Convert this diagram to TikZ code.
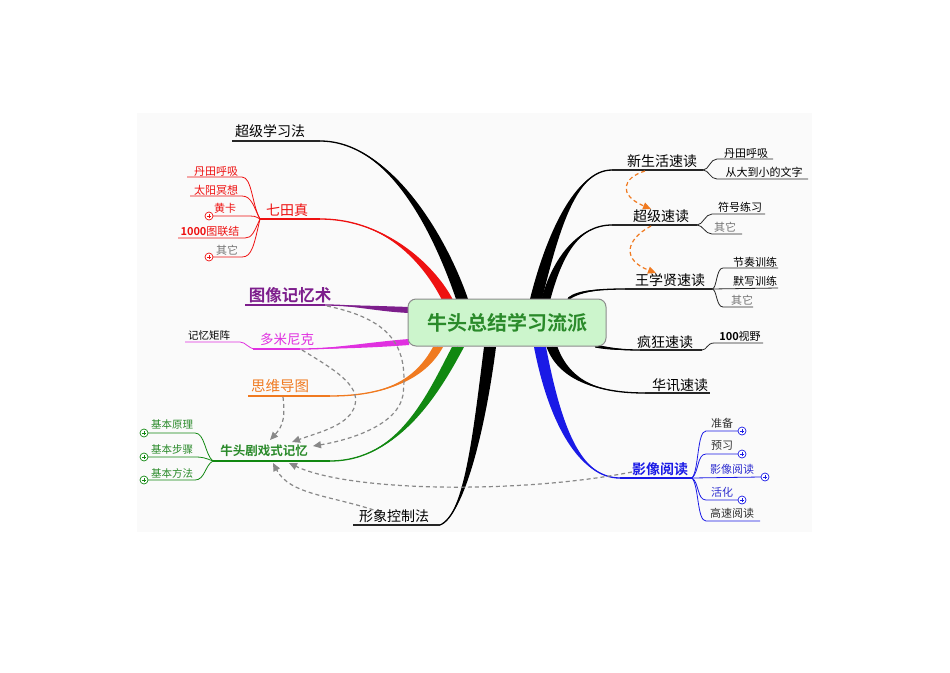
\documentclass[tikz,border=0pt]{standalone}
\usepackage{fontspec}
\setmainfont{Noto Sans CJK SC}[BoldFont={Noto Sans CJK SC Bold}]
\usetikzlibrary{arrows.meta,calc}
\definecolor{cred}{HTML}{EE1111}
\definecolor{cpur}{HTML}{7D1E8C}
\definecolor{cmag}{HTML}{E030E0}
\definecolor{cora}{HTML}{F07A20}
\definecolor{cgrn}{HTML}{118811}
\definecolor{tgrn}{HTML}{2A8A2A}
\definecolor{cblu}{HTML}{1A1AE6}
\definecolor{tblu}{HTML}{3030D0}
\definecolor{cfill}{HTML}{CCF5CC}
\definecolor{cgray}{HTML}{888888}
\definecolor{tdark}{HTML}{333333}
\newcommand\brfill[6]{%
  \fill[#1] ($#2+(#3)$) .. controls ($#4+(#3)$) and #5 .. #6 .. controls #5 and ($#4-(#3)$) .. ($#2-(#3)$) -- cycle;
  \draw[#1,line width=1.3pt] #2 .. controls #4 and #5 .. #6;}
\tikzset{
  big/.style={inner sep=0pt,font=\fontsize{14}{16}\selectfont},
  small/.style={inner sep=0pt,font=\fontsize{11}{13}\selectfont},
  ul/.style={line width=1.4pt},
  sl/.style={line width=0.8pt},
  pl/.style={circle,draw=#1,fill=white,inner sep=0pt,minimum size=8pt,line width=0.7pt,
    path picture={\draw[#1,line width=0.7pt] ($(path picture bounding box.center)-(2.2pt,0pt)$)--++(4.4pt,0pt)
      ($(path picture bounding box.center)-(0pt,2.2pt)$)--++(0pt,4.4pt);}},
  darr/.style={draw=cgray,line width=1.2pt,dash pattern=on 4pt off 3pt,-{Triangle[length=8pt,width=7pt,fill=cgray]}},
  oarr/.style={draw=cora,line width=1.2pt,dash pattern=on 4pt off 3pt,-{Triangle[length=8pt,width=7pt,fill=cora]}}
}
\begin{document}
\begin{tikzpicture}[x=1pt,y=-1pt]
\useasboundingbox (0,0) rectangle (950,672);
\fill[white] (0,0) rectangle (950,672);
\fill[black!2] (137,113) rectangle (812,532);

% ---------- main branches ----------
\brfill{black}{(462,299)}{6,0}{(440,235)}{(390,141)}{(320,141)}
\draw[black!85,ul] (232,141) -- (320,141);
\brfill{cred}{(447,299)}{5.5,0}{(432,270)}{(390,219)}{(320,219)}
\draw[cred,ul] (260,219) -- (320,219);
\brfill{cpur}{(410,310)}{0,3}{(380,309)}{(350,305)}{(325,305)}
\draw[cpur,ul] (245,305) -- (325,305);
\brfill{cmag}{(409,342)}{0,3}{(370,345)}{(330,349)}{(300,349)}
\draw[cmag,ul] (253,349) -- (300,349);
\brfill{cora}{(438,347)}{5,0}{(420,380)}{(385,396)}{(330,396)}
\draw[cora,ul] (248,396) -- (330,396);
\brfill{cgrn}{(458,347)}{6,0}{(435,390)}{(400,461)}{(330,461)}
\draw[cgrn,ul] (213,461) -- (330,461);
\brfill{black}{(490,347)}{6,0}{(480,425)}{(465,515)}{(440,525)}
\draw[black!85,ul] (353,525) -- (440,525);

\brfill{black}{(536,299)}{6,0}{(552,235)}{(575,170)}{(612,170)}
\draw[black!85,ul] (612,170) -- (703,170);
\brfill{black}{(546,299)}{4.5,0}{(557,258)}{(578,225)}{(612,225)}
\draw[black!85,ul] (612,225) -- (697,225);
\brfill{black}{(568,299)}{0,1.5}{(578,291)}{(598,289)}{(625,289)}
\draw[black!85,ul] (625,289) -- (712,289);
\brfill{black}{(595,346)}{0,1.5}{(610,349)}{(625,350)}{(640,350)}
\draw[black!85,ul] (640,350) -- (702,350);
\brfill{black}{(552,347)}{5.5,0}{(565,382)}{(600,393)}{(645,393)}
\draw[black!85,ul] (645,393) -- (710,393);
\brfill{cblu}{(540,347)}{6,0}{(555,425)}{(580,478)}{(620,478)}
\draw[cblu,ul] (620,478) -- (692,478);

% ---------- central node ----------
\node[draw=black!45,fill=cfill,rounded corners=8pt,line width=1pt,minimum width=198pt,minimum height=47pt,
  text=tgrn,font=\fontsize{20}{22}\selectfont\bfseries] (center) at (507,322.5) {牛头总结学习流派};

% ---------- left labels ----------
\node[big] (cjxxf) at (270,131) {超级学习法};
\node[big,text=cred] (qtz) at (287,210) {七田真};
\node[small,text=cred] (dthx1) at (216,171) {丹田呼吸};
\node[small,text=cred] (tymx) at (216,190) {太阳冥想};
\node[small,text=cred] (hk) at (225,208) {黄卡};
\node[small,text=cred] (ltlj) at (210,231) {\textbf{1000}图联结};
\node[small,text=black!55] (qt1) at (227,250) {其它};
\draw[cred,sl] (260,219) .. controls (252,205) and (252,177) .. (242,177) -- (187,177);
\draw[cred,sl] (260,219) .. controls (254,208) and (252,196) .. (242,196) -- (190,196);
\draw[cred,sl] (260,219) .. controls (255,216) .. (245,216) -- (213,216);
\draw[cred,sl] (260,219) .. controls (254,232) and (252,238) .. (245,238) -- (178,238);
\draw[cred,sl] (260,219) .. controls (254,245) and (252,257) .. (242,257) -- (213,257);
\node[pl=cred] (p1) at (209,216) {};
\node[pl=cred] (p2) at (209,257) {};

\node[inner sep=0pt,text=cpur,font=\fontsize{16.5}{18}\selectfont\bfseries] (txjys) at (290,295) {图像记忆术};
\node[inner sep=0pt,text=cmag,font=\fontsize{13.5}{15}\selectfont] (dmnk) at (287,339) {多米尼克};
\node[small,font=\fontsize{10.5}{12}\selectfont] (jyjz) at (209,335) {记忆矩阵};
\draw[cmag,sl] (185,342) -- (240,342) .. controls (246,342) and (248,349) .. (256,349);
\node[inner sep=0pt,text=cora,font=\fontsize{14.5}{16}\selectfont] (swdt) at (280,386) {思维导图};
\node[inner sep=0pt,text=tgrn,font=\fontsize{12.5}{14}\selectfont\bfseries] (ntjx) at (264,451) {牛头剧戏式记忆};
\node[inner sep=0pt,text=tgrn,font=\fontsize{10.5}{12}\selectfont] (jbyl) at (172,425) {基本原理};
\node[inner sep=0pt,text=tgrn,font=\fontsize{10.5}{12}\selectfont] (jbbz) at (172,450) {基本步骤};
\node[inner sep=0pt,text=tgrn,font=\fontsize{10.5}{12}\selectfont] (jbff) at (172,473) {基本方法};
\draw[cgrn,sl] (213,461) .. controls (205,455) and (205,433) .. (195,433) -- (148,433);
\draw[cgrn,sl] (213,461) .. controls (205,458) and (203,457) .. (195,457) -- (148,457);
\draw[cgrn,sl] (213,461) .. controls (205,465) and (205,480) .. (195,480) -- (148,480);
\node[pl=cgrn] (p3) at (144,433) {};
\node[pl=cgrn] (p4) at (144,457) {};
\node[pl=cgrn] (p5) at (144,480) {};
\node[big] (xxkzf) at (394,516) {形象控制法};

% ---------- right labels ----------
\node[big] (xshsd) at (662,161) {新生活速读};
\node[small] (dthx2) at (746,153) {丹田呼吸};
\node[small] (cddx) at (764,172) {从大到小的文字};
\draw[black!85,sl] (703,170) .. controls (709,170) and (710,159) .. (717,159) -- (773,159);
\draw[black!85,sl] (703,170) .. controls (709,170) and (710,179) .. (717,179) -- (808,179);
\node[big] (cjsd) at (661,216) {超级速读};
\node[small] (fhlx) at (740,207) {符号练习};
\node[small,text=black!55] (qt2) at (725,227) {其它};
\draw[black!85,sl] (697,225) .. controls (703,225) and (705,214) .. (712,214) -- (765,214);
\draw[black!85,sl] (697,225) .. controls (703,225) and (705,234) .. (712,234) -- (742,234);
\node[big] (wxxsd) at (670,280) {王学贤速读};
\node[small] (jzxl) at (755,262) {节奏训练};
\node[small] (mxxl) at (755,281) {默写训练};
\node[small,text=black!55] (qt3) at (742,300) {其它};
\draw[black!85,sl] (712,289) .. controls (717,289) and (716,268) .. (723,268) -- (778,268);
\draw[black!85,sl] (712,289) -- (778,288);
\draw[black!85,sl] (712,289) .. controls (717,289) and (716,307) .. (723,307) -- (753,307);
\node[big] (fksd) at (665,342) {疯狂速读};
\node[small] (ysy) at (740,336) {\textbf{100}视野};
\draw[black!85,sl] (702,350) .. controls (707,350) and (707,343) .. (714,343) -- (763,343);
\node[big] (hxsd) at (680,385) {华讯速读};
\node[big,text=cblu,font=\fontsize{14}{16}\selectfont\bfseries] (yxyd) at (660,469) {影像阅读};
\node[small,text=tdark] (zb) at (722,423) {准备};
\node[small,text=tdark] (yx) at (722,446) {预习};
\node[small,text=tblu] (yxyd2) at (732,469) {影像阅读};
\node[small,text=tblu] (hh) at (722,492) {活化};
\node[small,text=tdark] (gsyd) at (732,513) {高速阅读};
\draw[cblu,sl] (692,478) .. controls (699,470) and (697,431) .. (706,431) -- (738,431);
\draw[cblu,sl] (692,478) .. controls (699,472) and (697,454) .. (706,454) -- (738,454);
\draw[cblu,sl] (692,478) -- (761,477);
\draw[cblu,sl] (692,478) .. controls (699,482) and (697,500) .. (706,500) -- (738,500);
\draw[cblu,sl] (692,478) .. controls (699,486) and (697,521) .. (706,521) -- (760,521);
\node[pl=cblu] (p6) at (742,431) {};
\node[pl=cblu] (p7) at (742,454) {};
\node[pl=cblu] (p8) at (765,477) {};
\node[pl=cblu] (p9) at (742,500) {};

% ---------- dashed arrows ----------
\coordinate (a1s) at (327,306);
\coordinate (a1e) at (313,446);
\draw[darr] (a1s) .. controls (395,320) and (408,350) .. (403,395) .. controls (398,425) and (350,440) .. (a1e);
\coordinate (a2s) at (302,350);
\coordinate (a2e) at (292,442);
\draw[darr] (a2s) .. controls (335,370) and (360,385) .. (355,405) .. controls (350,425) and (320,432) .. (a2e);
\coordinate (a3s) at (283,397);
\coordinate (a3e) at (270,440);
\draw[darr] (a3s) .. controls (285,415) and (284,425) .. (a3e);
\coordinate (a4s) at (380,512);
\coordinate (a4e) at (273,463);
\draw[darr] (a4s) .. controls (330,495) and (290,495) .. (a4e);
\coordinate (a5s) at (632,472);
\coordinate (a5e) at (289,463);
\draw[darr] (a5s) .. controls (520,494) and (350,492) .. (a5e);
\coordinate (o1s) at (645,171);
\coordinate (o1e) at (651,209);
\draw[oarr] (o1s) .. controls (622,178) and (618,195) .. (o1e);
\coordinate (o2s) at (651,226);
\coordinate (o2e) at (656,273);
\draw[oarr] (o2s) .. controls (625,240) and (622,260) .. (o2e);
\end{tikzpicture}
\end{document}
